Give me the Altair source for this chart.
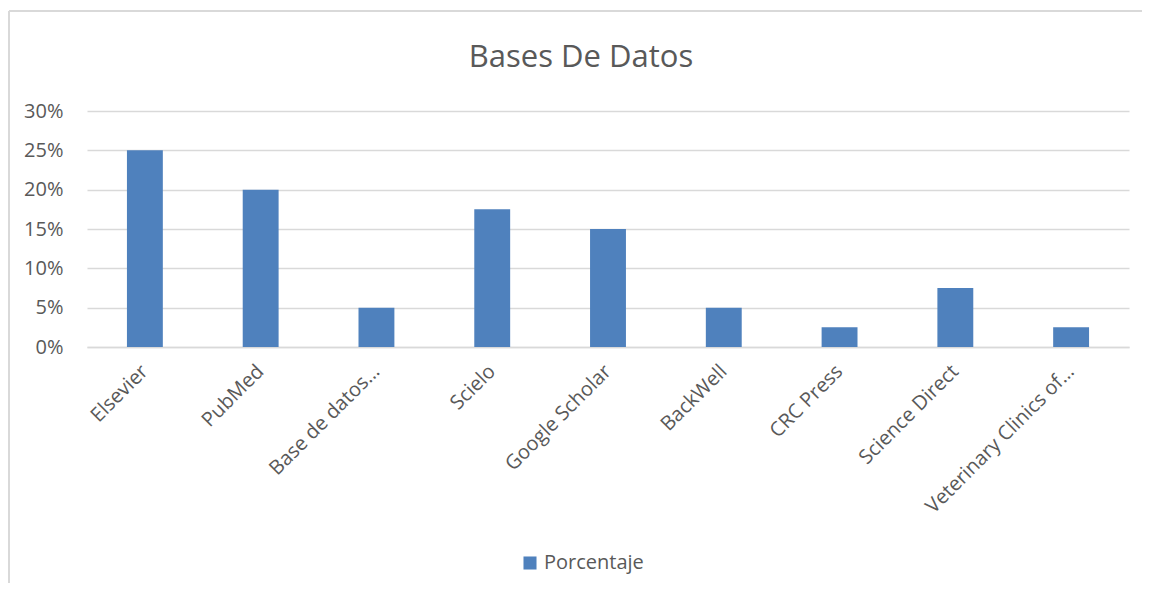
import altair as alt
import pandas as pd

categorias = ["Elsevier", "PubMed", "Base de datos…", "Scielo", "Google Scholar",
              "BackWell", "CRC Press", "Science Direct", "Veterinary Clinics of…"]
porcentajes = [0.25, 0.20, 0.05, 0.175, 0.15, 0.05, 0.025, 0.075, 0.025]
serie = ["Porcentaje"] * len(categorias)
y_ticks = [0, 0.05, 0.10, 0.15, 0.20, 0.25, 0.30]

df = pd.DataFrame({"categoria": categorias, "valor": porcentajes, "serie": serie})

FONT = "Open Sans"
TXT = "#595959"
GRID = "#d9d9d9"
W, H = 1042, 236

bars = alt.Chart(df).mark_bar(color="#4f81bd").encode(
    x=alt.X("categoria:N", sort=categorias,
            scale=alt.Scale(paddingInner=0.69, paddingOuter=0.345),
            axis=alt.Axis(title=None, labelAngle=-45, labelAlign="right",
                          labelBaseline="middle", labelPadding=21, ticks=False,
                          domain=True, domainColor=GRID, domainWidth=1.5,
                          labelFontSize=20, labelColor=TXT, labelFont=FONT,
                          labelLimit=400)),
    y=alt.Y("valor:Q", scale=alt.Scale(domain=[0, 0.3], nice=False),
            axis=alt.Axis(title=None, format=".0%", values=y_ticks, ticks=False,
                          domain=False, grid=True, gridColor=GRID, gridWidth=1.5,
                          labelFontSize=20, labelColor=TXT, labelFont=FONT,
                          labelPadding=24)),
    color=alt.Color("serie:N", scale=alt.Scale(range=["#4f81bd"]),
                    legend=alt.Legend(title=None, orient="none", legendX=433, legendY=442,
                                      symbolType="square", symbolSize=170,
                                      symbolStrokeWidth=0,
                                      labelFontSize=20, labelColor=TXT, labelFont=FONT)),
)

frame_src = pd.DataFrame({"b": [0]})
top_line = alt.Chart(frame_src).mark_rule(color=GRID, strokeWidth=2, clip=False).encode(
    x=alt.value(-78), x2=alt.value(W + 13), y=alt.value(-100),
)
left_line = alt.Chart(frame_src).mark_rule(color=GRID, strokeWidth=2, clip=False).encode(
    x=alt.value(-78), y=alt.value(-100), y2=alt.value(H + 240),
)

chart = alt.layer(top_line, left_line, bars).properties(
    width=W, height=H,
    title=alt.TitleParams("Bases De Datos", fontSize=31, font=FONT, color=TXT,
                          fontWeight="normal", anchor="middle", frame="group",
                          offset=30, dy=94, dx=-27),
    autosize=alt.AutoSizeParams(type="none"),
    padding={"left": 79, "top": 103, "right": 13, "bottom": 236},
).configure_view(stroke=None)

chart.save("out.html", embed_options={"renderer": "svg", "actions": False})
